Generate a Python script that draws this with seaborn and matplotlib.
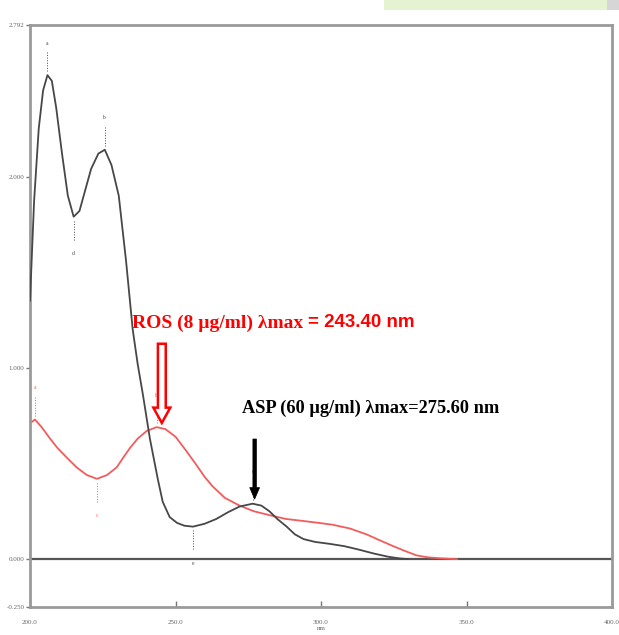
"""
Spectres UV : ASP et ROS (absorbance vs longueur d'onde)
"""

import matplotlib
matplotlib.use('Agg')
import matplotlib.pyplot as plt
from matplotlib.patches import FancyArrow, Rectangle
import seaborn as sns
import pandas as pd

# ASP (60 µg/ml) - courbe noire
asp_nm = [200.0, 201.4, 203.0, 204.5, 206.0, 207.5, 209.0, 211.0, 213.0, 215.0,
          217.0, 219.0, 221.0, 223.5, 225.7, 228.0, 230.5, 233.0, 235.3, 237.0,
          238.8, 241.2, 243.9, 245.6, 248.0, 250.5, 253.0, 256.0, 260.0, 264.0,
          268.0, 272.0, 276.5, 279.5, 282.3, 285.0, 288.2, 291.0, 294.0, 298.0,
          303.0, 308.0, 313.0, 318.0, 323.0, 327.0, 330.0]
asp_abs = [1.35, 1.87, 2.25, 2.45, 2.53, 2.50, 2.36, 2.12, 1.90, 1.79,
           1.82, 1.93, 2.04, 2.12, 2.14, 2.06, 1.90, 1.56, 1.20, 1.02,
           0.86, 0.63, 0.42, 0.30, 0.22, 0.19, 0.175, 0.17, 0.185, 0.21,
           0.245, 0.275, 0.29, 0.28, 0.25, 0.21, 0.17, 0.13, 0.105, 0.09,
           0.08, 0.068, 0.05, 0.03, 0.013, 0.004, 0.0]

# ROS (8 µg/ml) - courbe rouge
ros_nm = [200.0, 201.7, 204.0, 206.9, 209.5, 212.7, 216.0, 219.5, 223.0, 226.5,
          229.8, 232.0, 234.3, 237.0, 240.1, 243.5, 246.5, 250.0, 253.5, 257.3,
          260.0, 262.8, 267.0, 272.0, 277.0, 282.3, 288.0, 293.7, 299.0, 304.0,
          310.0, 315.6, 320.0, 324.5, 328.5, 332.8, 336.5, 340.6, 346.8]
ros_abs = [0.71, 0.73, 0.69, 0.63, 0.58, 0.53, 0.48, 0.44, 0.42, 0.44,
           0.48, 0.53, 0.58, 0.63, 0.67, 0.69, 0.68, 0.64, 0.57, 0.49,
           0.43, 0.38, 0.32, 0.28, 0.25, 0.23, 0.21, 0.20, 0.19, 0.18,
           0.16, 0.13, 0.10, 0.07, 0.045, 0.02, 0.01, 0.005, 0.0]

# Pics / creux repérés
asp_peaks = [(206.0, 2.53, 'a'), (225.7, 2.14, 'b'), (276.5, 0.29, 'c')]
asp_valleys = [(215.0, 1.79, 'd'), (256.0, 0.17, 'e')]
ros_peaks = [(201.7, 0.73, 'a'), (243.5, 0.69, 'b')]
ros_valleys = [(223.0, 0.42, 'c')]

x_ticks = [200, 250, 300, 350, 400]
x_labels = ['200.0', '250.0', '300.0', '350.0', '400.0']
y_ticks = [-0.25, 0.0, 1.0, 2.0, 2.792]
y_labels = ['-0.250', '0.000', '1.000', '2.000', '2.792']

sns.set_style('white')
plt.rcParams['font.family'] = ['Liberation Serif', 'DejaVu Serif']

fig = plt.figure(figsize=(6.19, 6.35), dpi=100)
ax = fig.add_axes([30 / 619, 1 - 607 / 635, 582 / 619, 582 / 635])

# bandeau de page en haut
fig.patches.append(Rectangle((0.62, 0.985), 0.36, 0.015, transform=fig.transFigure,
                             facecolor='#e4f3d2', edgecolor='none'))
fig.patches.append(Rectangle((0.98, 0.985), 0.02, 0.015, transform=fig.transFigure,
                             facecolor='#d6d6d6', edgecolor='none'))

asp = pd.DataFrame({'nm': asp_nm, 'abs': asp_abs})
ros = pd.DataFrame({'nm': ros_nm, 'abs': ros_abs})

ax.axhline(0, color='#555555', linewidth=1.6, zorder=1)
sns.lineplot(data=asp, x='nm', y='abs', ax=ax, color='#474747', linewidth=1.3,
             sort=False, zorder=3)
sns.lineplot(data=ros, x='nm', y='abs', ax=ax, color='#f25c5c', linewidth=1.3,
             sort=False, zorder=2)

# petits repères de pics
for x, y, lab in asp_peaks:
    ax.plot([x, x], [y + 0.02, y + 0.12], color='#474747', lw=0.7, ls=':')
    ax.text(x, y + 0.16, lab, fontsize=4, color='#474747', ha='center')
for x, y, lab in asp_valleys:
    ax.plot([x, x], [y - 0.02, y - 0.12], color='#474747', lw=0.7, ls=':')
    ax.text(x, y - 0.2, lab, fontsize=4, color='#474747', ha='center')
for x, y, lab in ros_peaks:
    ax.plot([x, x], [y + 0.02, y + 0.12], color='#f25c5c', lw=0.7, ls=':')
    ax.text(x, y + 0.16, lab, fontsize=4, color='#f25c5c', ha='center')
for x, y, lab in ros_valleys:
    ax.plot([x, x], [y - 0.02, y - 0.12], color='#f25c5c', lw=0.7, ls=':')
    ax.text(x, y - 0.2, lab, fontsize=4, color='#f25c5c', ha='center')

# flèches
ax.add_patch(FancyArrow(245.3, 1.126, 0, 0.712 - 1.126, width=2.7, head_width=5.8,
                        head_length=0.08, length_includes_head=True,
                        facecolor='white', edgecolor='red', linewidth=1.8, zorder=5))
ax.add_patch(FancyArrow(277.2, 0.628, 0, 0.314 - 0.628, width=1.2, head_width=3.4,
                        head_length=0.06, length_includes_head=True,
                        facecolor='black', edgecolor='black', linewidth=0.5, zorder=5))

# textes
ax.text(235.1, 1.235, 'ROS (8 µg/ml) λmax', color='red', fontsize=14,
        fontweight='bold', ha='left', va='center')
ax.text(295.6, 1.235, '= 243.40 nm', color='red', fontsize=13.5, fontweight='bold',
        family=['Liberation Sans', 'DejaVu Sans'], ha='left', va='center')
ax.text(272.7, 0.79, 'ASP (60 µg/ml) λmax=275.60 nm', color='black', fontsize=13.2,
        fontweight='bold', ha='left', va='center')

ax.set_xlim(200, 400)
ax.set_ylim(-0.25, 2.792)
ax.set_xticks(x_ticks)
ax.set_xticklabels(x_labels)
ax.set_yticks(y_ticks)
ax.set_yticklabels(y_labels)
ax.tick_params(axis='x', direction='in', length=4, width=1, color='#777777',
               labelsize=5, labelcolor='#666666', pad=9, bottom=True)
ax.tick_params(axis='y', direction='out', length=3, width=1, color='#777777',
               labelsize=5, labelcolor='#666666', pad=1, left=True)
ax.set_xlabel('nm', fontsize=5, color='#666666', labelpad=1)
ax.set_ylabel('')
ax.grid(False)
for side in ['left', 'right', 'top', 'bottom']:
    ax.spines[side].set_color('#9a9a9a')
    ax.spines[side].set_linewidth(2)

plt.savefig('out.png', dpi=100, facecolor='white')
plt.close()
